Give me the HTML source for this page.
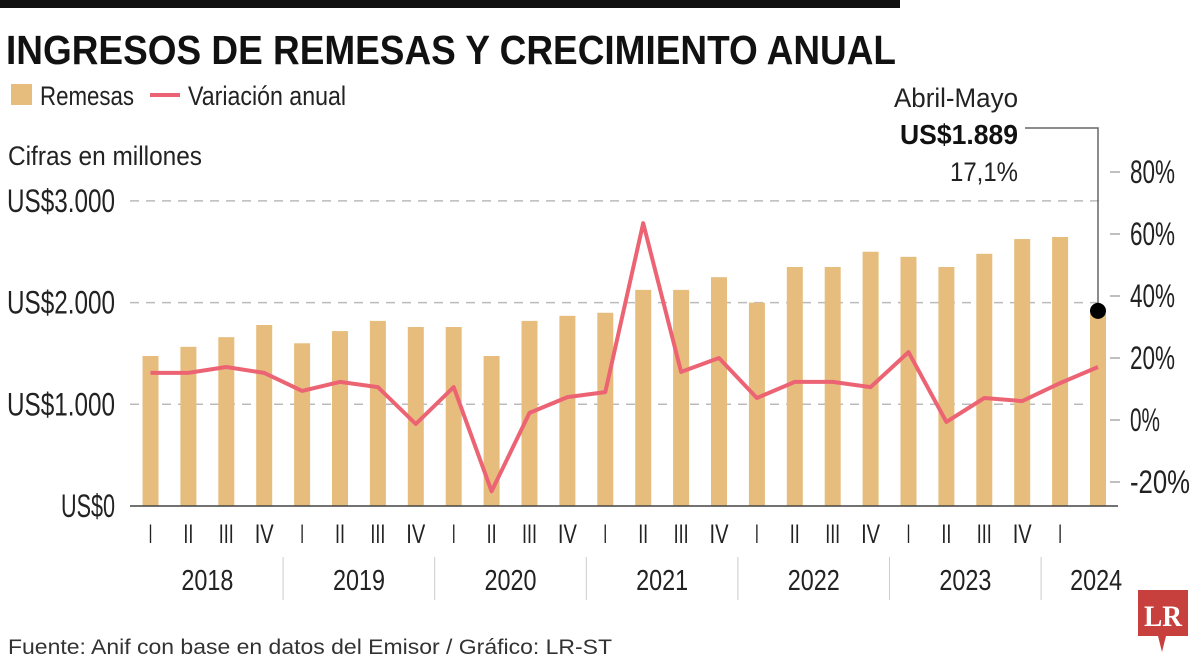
<!DOCTYPE html>
<html><head><meta charset="utf-8"><style>
html,body{margin:0;padding:0;background:#fff;}
svg{display:block;font-family:"Liberation Sans",sans-serif;}
</style></head><body>
<svg id="c" width="1200" height="664" viewBox="0 0 1200 664" xmlns="http://www.w3.org/2000/svg">
<rect x="0" y="0" width="900" height="8" fill="#111"/>
<text x="6" y="64" font-size="41" font-weight="bold" fill="#111" textLength="890" lengthAdjust="spacingAndGlyphs">INGRESOS DE REMESAS Y CRECIMIENTO ANUAL</text>
<g>
<rect x="11" y="84" width="21" height="21" fill="#e6bd7d"/>
<text x="40" y="105" font-size="27" fill="#222" textLength="94" lengthAdjust="spacingAndGlyphs">Remesas</text>
<line x1="150" y1="95" x2="180" y2="95" stroke="#ec6474" stroke-width="4"/>
<text x="188" y="105" font-size="27" fill="#222" textLength="158" lengthAdjust="spacingAndGlyphs">Variación anual</text>
</g>
<text x="8" y="165" font-size="27" fill="#222" textLength="194" lengthAdjust="spacingAndGlyphs">Cifras en millones</text>
<g id="plot"></g>
<text x="1018" y="107" font-size="27" fill="#222" text-anchor="end" textLength="124" lengthAdjust="spacingAndGlyphs">Abril-Mayo</text>
<text x="1018" y="144" font-size="28" font-weight="bold" fill="#111" text-anchor="end" textLength="118" lengthAdjust="spacingAndGlyphs">US$1.889</text>
<text x="1018" y="181" font-size="27" fill="#222" text-anchor="end" textLength="68" lengthAdjust="spacingAndGlyphs">17,1%</text>
<text x="8" y="654" font-size="21" fill="#333" textLength="604" lengthAdjust="spacingAndGlyphs">Fuente: Anif con base en datos del Emisor / Gráfico: LR-ST</text>
<g>
<path d="M1138 590 H1188 V636 H1166 L1162 652 L1158 636 H1138 Z" fill="#c8403d"/>
<text x="1163" y="626" font-size="30" font-weight="bold" fill="#fff" text-anchor="middle" font-family="Liberation Serif,serif" textLength="38" lengthAdjust="spacingAndGlyphs">LR</text>
</g>
</svg>
<script>
const quarterLabels=["I","II","III","IV","I","II","III","IV","I","II","III","IV","I","II","III","IV","I","II","III","IV","I","II","III","IV","I"];
const years=["2018","2019","2020","2021","2022","2023","2024"];
const remesas=[1475,1565,1660,1780,1600,1720,1820,1760,1760,1475,1820,1870,1900,2125,2125,2250,2000,2350,2350,2500,2450,2350,2480,2625,2645,1889];
const variacion=[15.2,15.2,17.1,15.2,9.4,12.3,10.6,-1.3,10.6,-23,2.3,7.4,9,63.5,15.5,20,7.1,12.3,12.3,10.6,21.9,-0.6,7.1,6.1,11.9,17.1];
const leftTicks=[0,1000,2000,3000];
const leftTickLabels=["US$0","US$1.000","US$2.000","US$3.000"];
const rightTicks=[-20,0,20,40,60,80];
const rightTickLabels=["-20%","0%","20%","40%","60%","80%"];

const NS="http://www.w3.org/2000/svg";
const g=document.getElementById('plot');
function el(t,a){const e=document.createElementNS(NS,t);for(const k in a)e.setAttribute(k,a[k]);g.appendChild(e);return e;}
const x=i=>150.5+i*37.9;
const yL=v=>506-v*0.1017;
const yR=v=>420-v*3.1;
const qw={"I":4,"II":10,"III":15,"IV":19};

leftTicks.forEach((v,i)=>{
  if(v>0){const l=el('line',{x1:130,x2:1100,y1:yL(v),y2:yL(v),stroke:'#bbb','stroke-width':1.5,'stroke-dasharray':'9 7'});
  
  }
  const t=el('text',{x:115,y:yL(v)+11,'font-size':32,'text-anchor':'end',fill:'#222',textLength:leftTickLabels[i].length*13.5,lengthAdjust:'spacingAndGlyphs'});
  t.textContent=leftTickLabels[i];
  
  
});
remesas.forEach((v,i)=>{
  const r=el('rect',{x:x(i)-8,y:yL(v),width:16,height:506-yL(v),fill:'#e6bd7d'});
  
  
});
const ax=el('line',{x1:130,x2:1118,y1:506,y2:506,stroke:'#444','stroke-width':1.5});


rightTicks.forEach((v,i)=>{
  const l=el('line',{x1:1110,x2:1120,y1:yR(v),y2:yR(v),stroke:'#aaa','stroke-width':1.5});
  
  
  const t=el('text',{x:1130,y:yR(v)+11,'font-size':32,fill:'#222',textLength:rightTickLabels[i].length*15,lengthAdjust:'spacingAndGlyphs'});
  t.textContent=rightTickLabels[i];
  
  
});
const pts=variacion.map((v,i)=>x(i).toFixed(1)+','+yR(v).toFixed(1)).join(' ');
const pl=el('polyline',{points:pts,fill:'none',stroke:'#ec6474','stroke-width':4,'stroke-linejoin':'round'});


const last=remesas.length-1;
const ld=el('polyline',{points:`1025,128 ${x(last)},128 ${x(last)},${yL(remesas[last])}`,fill:'none',stroke:'#666','stroke-width':1.5});


const dot=el('circle',{cx:x(last),cy:yL(remesas[last])-3,r:8,fill:'#000'});


quarterLabels.forEach((q,i)=>{
  const t=el('text',{x:x(i),y:543,'font-size':27,'text-anchor':'middle',fill:'#222',textLength:qw[q],lengthAdjust:'spacingAndGlyphs'});
  t.textContent=q;
  
  
});
years.forEach((yv,i)=>{
  const cx=i<6?(x(i*4)+x(i*4+3))/2:x(24)+36;
  const t=el('text',{x:cx,y:590,'font-size':29,'text-anchor':'middle',fill:'#222',textLength:52,lengthAdjust:'spacingAndGlyphs'});
  t.textContent=yv;
  
  
  if(i>0){const s=el('line',{x1:x(i*4)-19,x2:x(i*4)-19,y1:557,y2:600,stroke:'#ccc','stroke-width':1});
  
  }
});
</script>
</body></html>
